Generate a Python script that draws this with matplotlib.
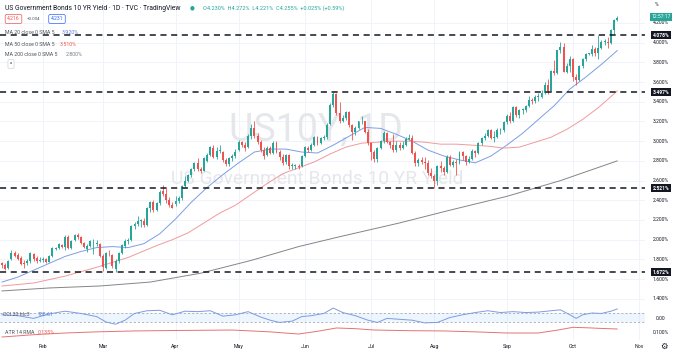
import numpy as np
import pandas as pd
import matplotlib
matplotlib.use("Agg")
import matplotlib.pyplot as plt
import matplotlib.transforms as mtransforms

# US10Y daily candles, 12 Jan 2022 -> 21 Oct 2022
opens = [1.76, 1.74, 1.71, 1.80, 1.87, 1.84, 1.81, 1.76, 1.76, 1.78,
         1.85, 1.81, 1.78, 1.79, 1.80, 1.77, 1.83, 1.91, 1.92, 1.95,
         1.93, 2.03, 1.92, 2.00, 2.05, 2.03, 1.97, 1.91, 1.94, 1.97,
         1.96, 1.96, 1.83, 1.71, 1.87, 1.84, 1.70, 1.78, 1.86, 1.94,
         1.99, 2.00, 2.14, 2.16, 2.19, 2.19, 2.15, 2.32, 2.38, 2.30,
         2.37, 2.49, 2.46, 2.40, 2.35, 2.36, 2.39, 2.42, 2.55, 2.60,
         2.66, 2.72, 2.78, 2.72, 2.70, 2.80, 2.86, 2.93, 2.84, 2.90,
         2.89, 2.81, 2.77, 2.83, 2.85, 2.91, 2.99, 2.96, 2.94, 3.05,
         3.13, 3.05, 2.99, 2.91, 2.86, 2.93, 2.88, 2.98, 2.89, 2.84,
         2.79, 2.86, 2.75, 2.75, 2.75, 2.75, 2.85, 2.93, 2.91, 2.96,
         3.04, 2.98, 3.03, 3.04, 3.17, 3.37, 3.48, 3.29, 3.20, 3.24,
         3.30, 3.16, 3.09, 3.13, 3.20, 3.20, 3.09, 2.98, 2.89, 2.82,
         2.93, 3.00, 3.08, 2.99, 2.96, 2.91, 2.96, 2.93, 2.96, 3.02,
         3.03, 2.88, 2.78, 2.81, 2.79, 2.78, 2.68, 2.65, 2.60, 2.75,
         2.73, 2.69, 2.84, 2.76, 2.79, 2.78, 2.89, 2.85, 2.79, 2.82,
         2.90, 2.88, 2.98, 3.03, 3.05, 3.11, 3.03, 3.04, 3.11, 3.11,
         3.19, 3.26, 3.20, 3.35, 3.27, 3.32, 3.32, 3.36, 3.42, 3.41,
         3.45, 3.45, 3.49, 3.57, 3.51, 3.71, 3.69, 3.93, 3.96, 3.70,
         3.76, 3.83, 3.65, 3.62, 3.76, 3.83, 3.89, 3.89, 3.94, 3.90,
         3.95, 4.01, 4.01, 4.00, 4.13, 4.230]
highs = [1.77, 1.76, 1.79, 1.90, 1.89, 1.86, 1.83, 1.79, 1.80, 1.88,
         1.86, 1.83, 1.82, 1.82, 1.81, 1.84, 1.93, 1.93, 1.97, 1.96,
         2.05, 2.05, 2.00, 2.06, 2.07, 2.04, 1.98, 1.96, 2.00, 2.01,
         2.00, 1.97, 1.85, 1.88, 1.90, 1.85, 1.80, 1.88, 1.96, 2.01,
         2.02, 2.15, 2.18, 2.24, 2.21, 2.22, 2.33, 2.39, 2.40, 2.38,
         2.50, 2.56, 2.52, 2.43, 2.38, 2.44, 2.44, 2.56, 2.65, 2.67,
         2.73, 2.79, 2.83, 2.74, 2.84, 2.88, 2.95, 2.96, 2.94, 2.96,
         2.90, 2.83, 2.84, 2.87, 2.92, 3.01, 3.00, 2.99, 3.07, 3.17,
         3.20, 3.08, 3.01, 2.94, 2.95, 2.95, 3.00, 3.00, 2.91, 2.87,
         2.87, 2.87, 2.78, 2.77, 2.77, 2.86, 2.95, 2.95, 2.98, 3.05,
         3.05, 3.04, 3.06, 3.18, 3.39, 3.50, 3.49, 3.40, 3.27, 3.31,
         3.31, 3.17, 3.15, 3.21, 3.26, 3.21, 3.12, 2.99, 2.91, 2.94,
         3.01, 3.10, 3.09, 3.00, 3.07, 3.00, 2.99, 3.00, 3.04, 3.07,
         3.06, 2.90, 2.83, 2.84, 2.84, 2.81, 2.73, 2.67, 2.76, 2.80,
         2.75, 2.86, 2.86, 2.81, 2.82, 2.90, 2.90, 2.86, 2.85, 2.92,
         2.91, 2.99, 3.04, 3.08, 3.12, 3.12, 3.10, 3.13, 3.13, 3.20,
         3.28, 3.30, 3.36, 3.36, 3.33, 3.34, 3.37, 3.46, 3.44, 3.47,
         3.49, 3.52, 3.60, 3.63, 3.72, 3.82, 3.93, 4.01, 4.00, 3.79,
         3.86, 3.84, 3.68, 3.77, 3.84, 3.90, 3.90, 3.98, 3.96, 4.08,
         4.03, 4.04, 4.06, 4.14, 4.24, 4.272]
lows = [1.71, 1.69, 1.70, 1.79, 1.82, 1.79, 1.74, 1.71, 1.74, 1.76,
        1.78, 1.76, 1.77, 1.77, 1.76, 1.77, 1.82, 1.90, 1.91, 1.92,
        1.90, 1.91, 1.91, 1.99, 2.01, 1.96, 1.92, 1.88, 1.93, 1.85,
        1.94, 1.82, 1.68, 1.70, 1.83, 1.71, 1.67, 1.76, 1.85, 1.92,
        1.96, 1.99, 2.11, 2.14, 2.13, 2.13, 2.14, 2.28, 2.28, 2.29,
        2.35, 2.44, 2.37, 2.33, 2.32, 2.34, 2.37, 2.40, 2.53, 2.59,
        2.64, 2.70, 2.70, 2.68, 2.70, 2.79, 2.85, 2.83, 2.82, 2.88,
        2.79, 2.75, 2.75, 2.80, 2.83, 2.90, 2.94, 2.90, 2.93, 3.02,
        3.03, 2.97, 2.89, 2.82, 2.85, 2.87, 2.87, 2.88, 2.81, 2.76,
        2.77, 2.72, 2.72, 2.72, 2.72, 2.74, 2.84, 2.89, 2.90, 2.95,
        2.96, 2.97, 3.01, 3.02, 3.16, 3.35, 3.27, 3.18, 3.19, 3.22,
        3.14, 3.01, 3.06, 3.12, 3.17, 3.08, 2.96, 2.81, 2.79, 2.79,
        2.92, 2.98, 2.98, 2.93, 2.89, 2.89, 2.91, 2.92, 2.95, 3.01,
        2.87, 2.75, 2.75, 2.77, 2.72, 2.66, 2.63, 2.52, 2.56, 2.69,
        2.66, 2.68, 2.75, 2.74, 2.66, 2.77, 2.81, 2.76, 2.78, 2.81,
        2.84, 2.87, 2.96, 3.01, 3.04, 3.02, 2.99, 3.03, 3.07, 3.09,
        3.17, 3.18, 3.19, 3.25, 3.24, 3.28, 3.30, 3.35, 3.38, 3.39,
        3.41, 3.44, 3.48, 3.48, 3.50, 3.67, 3.68, 3.90, 3.70, 3.69,
        3.70, 3.61, 3.57, 3.61, 3.74, 3.81, 3.88, 3.86, 3.86, 3.83,
        3.94, 3.98, 3.95, 3.99, 4.09, 4.221]
closes = [1.74, 1.70, 1.78, 1.87, 1.83, 1.80, 1.75, 1.75, 1.78, 1.87,
          1.80, 1.78, 1.78, 1.80, 1.77, 1.83, 1.92, 1.92, 1.96, 1.93,
          2.03, 1.92, 1.99, 2.05, 2.03, 1.97, 1.93, 1.94, 1.99, 1.97,
          1.97, 1.83, 1.72, 1.86, 1.86, 1.73, 1.78, 1.86, 1.95, 1.99,
          2.00, 2.14, 2.16, 2.19, 2.19, 2.15, 2.32, 2.38, 2.30, 2.37,
          2.48, 2.46, 2.40, 2.35, 2.32, 2.39, 2.42, 2.55, 2.60, 2.66,
          2.72, 2.78, 2.72, 2.70, 2.83, 2.86, 2.94, 2.84, 2.90, 2.90,
          2.81, 2.77, 2.83, 2.85, 2.89, 2.99, 2.96, 2.93, 3.05, 3.13,
          3.05, 2.99, 2.91, 2.85, 2.93, 2.88, 2.98, 2.89, 2.84, 2.78,
          2.86, 2.75, 2.75, 2.75, 2.74, 2.85, 2.94, 2.91, 2.96, 3.04,
          2.98, 3.03, 3.04, 3.16, 3.37, 3.48, 3.29, 3.20, 3.24, 3.30,
          3.16, 3.09, 3.13, 3.20, 3.20, 3.09, 2.98, 2.89, 2.82, 2.93,
          3.00, 3.08, 2.99, 2.96, 2.91, 2.96, 2.93, 2.96, 3.02, 3.03,
          2.88, 2.78, 2.81, 2.79, 2.78, 2.68, 2.65, 2.60, 2.75, 2.73,
          2.69, 2.84, 2.76, 2.79, 2.78, 2.89, 2.85, 2.79, 2.82, 2.90,
          2.88, 2.98, 3.03, 3.05, 3.11, 3.03, 3.04, 3.11, 3.11, 3.19,
          3.26, 3.20, 3.35, 3.27, 3.32, 3.32, 3.36, 3.42, 3.41, 3.45,
          3.45, 3.49, 3.57, 3.51, 3.71, 3.69, 3.93, 3.96, 3.70, 3.76,
          3.83, 3.65, 3.62, 3.76, 3.83, 3.89, 3.89, 3.94, 3.90, 3.95,
          4.01, 4.01, 4.00, 4.13, 4.23, 4.255]

# bond market holidays skipped by the daily bars
holidays = ['2022-01-17', '2022-02-21', '2022-04-15', '2022-05-30',
            '2022-06-20', '2022-07-04', '2022-09-05']

# moving averages, sampled at bar numbers
ma20_bar = [0, 5, 10, 15, 20, 25, 30, 35, 40, 45, 50, 55, 60, 65, 70, 75, 80, 85, 90, 95,
            100, 105, 110, 115, 120, 125, 130, 135, 140, 145, 150, 155, 160, 165, 170, 175,
            180, 185, 190, 195]
ma20_val = [1.57, 1.62, 1.69, 1.76, 1.83, 1.88, 1.92, 1.93, 1.92, 1.96, 2.06, 2.21, 2.38,
            2.53, 2.66, 2.78, 2.89, 2.92, 2.92, 2.89, 2.88, 2.96, 3.05, 3.14, 3.13, 3.07,
            3.00, 2.91, 2.85, 2.81, 2.78, 2.85, 2.96, 3.08, 3.22, 3.36, 3.53, 3.65, 3.78, 3.92]
ma50_bar = [0, 10, 20, 30, 40, 49, 54, 59, 64, 69, 74, 79, 84, 89, 94, 99, 104, 109, 114,
            119, 124, 129, 134, 139, 144, 149, 154, 159, 164, 169, 174, 179, 184, 189, 195]
ma50_val = [1.53, 1.56, 1.63, 1.72, 1.82, 1.94, 2.00, 2.07, 2.17, 2.27, 2.35, 2.46, 2.57,
            2.67, 2.73, 2.79, 2.87, 2.94, 2.98, 2.99, 3.00, 3.00, 2.99, 2.97, 2.97, 2.96,
            2.95, 2.93, 2.94, 2.99, 3.04, 3.12, 3.22, 3.34, 3.51]
ma200_bar = [0, 15, 31, 47, 63, 79, 94, 107, 126, 142, 160, 177, 195]
ma200_val = [1.48, 1.51, 1.53, 1.57, 1.66, 1.79, 1.93, 2.03, 2.17, 2.30, 2.44, 2.60, 2.80]

# CCI 20 and ATR 14 panes
cci_bar = [0, 5, 10, 15, 20, 25, 30, 33, 36, 39, 42, 46, 50, 54, 58, 62, 66, 70, 74, 78,
           82, 85, 88, 92, 95, 98, 102, 105, 108, 112, 116, 119, 122, 126, 130, 134, 138,
           142, 146, 150, 154, 158, 162, 166, 170, 174, 177, 180, 182, 184, 187, 190, 193, 195]
cci_val = [60, 40, -20, 80, 140, 90, 20, -100, -150, -60, 90, 150, 160, 60, 140, 130, 150,
           30, 60, 130, 10, -60, -110, -80, 20, 40, 90, 210, 110, 40, -60, -110, -20, -40,
           -60, -120, -110, 0, 60, 110, 150, 110, 130, 110, 120, 150, 170, 60, -20, 60, 100,
           90, 140, 188.61]
atr_bar = [0, 10, 20, 30, 42, 55, 73, 85, 94, 100, 106, 112, 118, 130, 140, 150, 160, 170,
           176, 181, 186, 190, 195]
atr_val = [0.065, 0.085, 0.100, 0.110, 0.118, 0.122, 0.126, 0.110, 0.091, 0.115, 0.144,
           0.138, 0.126, 0.120, 0.118, 0.110, 0.100, 0.100, 0.125, 0.150, 0.145, 0.140, 0.135]

levels = [4.078, 3.497, 2.521, 1.672]
price_ticks = [1.4, 1.6, 1.8, 2.0, 2.2, 2.4, 2.6, 2.8, 3.0, 3.2, 3.4, 3.6, 3.8, 4.0, 4.2]

GREEN = '#26a69a'
RED = '#ef5350'
INK = '#131722'
GRID = '#f0f3fa'

W, H = 680, 353
plt.rcParams['font.family'] = ['Roboto', 'DejaVu Sans']

fig = plt.figure(figsize=(W / 100, H / 100), dpi=100)
fig.patch.set_facecolor('white')


def rect(x0, y0, x1, y1):
    return [x0 / W, 1 - y1 / H, (x1 - x0) / W, (y1 - y0) / H]


def ftext(x, y, s, **kw):
    kw.setdefault('va', 'center')
    return fig.text(x / W, 1 - y / H, s, **kw)


ax = fig.add_axes(rect(0, 0, 645, 304))
ax_cci = fig.add_axes(rect(0, 304, 645, 326), sharex=ax)
ax_atr = fig.add_axes(rect(0, 326, 645, 340), sharex=ax)

days = pd.bdate_range('2022-01-12', '2022-11-01')
days = days[~days.isin(pd.to_datetime(holidays))]
month_pos = [i for i in range(1, len(days)) if days[i].month != days[i - 1].month]
month_lab = [days[i].strftime('%b') for i in month_pos]

n = len(closes)
x = np.arange(n)
o, h, l, c = (np.array(v) for v in (opens, highs, lows, closes))
col = np.where(c >= o, GREEN, RED)

for a in (ax, ax_cci, ax_atr):
    a.set_facecolor('white')
    for s in a.spines.values():
        s.set_visible(False)
    a.vlines(month_pos, -1000, 1000, color=GRID, lw=0.7, zorder=0)
    a.tick_params(length=0, labelleft=False, labelbottom=False)
    a.set_yticks([])

ax.set_xlim(-0.63, 203.8)
ax.set_ylim(1.3472, 4.4335)
for t in price_ticks:
    ax.axhline(t, color=GRID, lw=0.7, zorder=0)

# watermark
ax.text(316 / 645, 1 - 130 / 304, 'US10Y, 1D', transform=ax.transAxes, ha='center',
        va='center', fontsize=27, color='#e5e7eb', zorder=0)
ax.text(317 / 645, 1 - 179 / 304, 'US Government Bonds 10 YR Yield', transform=ax.transAxes,
        ha='center', va='center', fontsize=13.8, color='#e5e7eb', zorder=0)

# candles
ax.vlines(x, l, h, colors=col, lw=0.6, zorder=3)
ax.bar(x, np.maximum(np.abs(c - o), 0.01), bottom=np.minimum(o, c), width=0.62,
       color=col, lw=0, zorder=4)

ax.plot(ma20_bar, ma20_val, color='#7d9de3', lw=0.7, zorder=2)
ax.plot(ma50_bar, ma50_val, color='#f29a9a', lw=0.7, zorder=2)
ax.plot(ma200_bar, ma200_val, color='#858585', lw=0.7, zorder=2)

lbl = mtransforms.blended_transform_factory(ax.transAxes, ax.transData)
for v in levels:
    ax.axhline(v, color=INK, lw=1.1, ls=(0, (4, 3)), zorder=5)
    ax.text(661 / 645, v, f'{v:.3f}%', transform=lbl, ha='center', va='center',
            fontsize=3.6, color='white', fontweight='bold', clip_on=False, zorder=7,
            bbox=dict(boxstyle='square,pad=0.3', fc=INK, ec='none'))
for t in price_ticks:
    ax.text(661 / 645, t, f'{t:.3f}%', transform=lbl, ha='center', va='center',
            fontsize=3.6, color=INK, clip_on=False, zorder=6)

ftext(661, 17, '12:57:17', ha='center', fontsize=3.6, color='white', zorder=8,
      bbox=dict(boxstyle='square,pad=0.35', fc=GREEN, ec='none'))
ftext(657, 5, '%', ha='center', fontsize=3.6, color=INK)

# CCI pane
ax_cci.set_ylim(-189, 300)
ax_cci.axhspan(-100, 100, color='#2196f3', alpha=0.08, lw=0)
for v in (100, -100):
    ax_cci.axhline(v, color='#9598a1', lw=0.5, ls=(0, (3, 3)))
ax_cci.plot(cci_bar, cci_val, color='#7e9be0', lw=0.7)
ftext(661, 318, '0.00', ha='center', fontsize=3.6, color=INK)
ftext(3, 315, 'CCI 20 hlc3', fontsize=3.8, color='#50535e')
ftext(38, 315, f'{cci_val[-1]:.2f}', fontsize=3.8, color='#5b7fd6')

# ATR pane
ax_atr.set_ylim(0.0388, 0.1613)
ax_atr.plot(atr_bar, atr_val, color='#e57373', lw=0.7)
ftext(661, 333, '0.100%', ha='center', fontsize=3.6, color=INK)
ftext(5, 333, 'ATR 14 RMA', fontsize=3.8, color='#50535e')
ftext(38, 333, f'{atr_val[-1]:.3f}%', fontsize=3.8, color=RED)

ax_atr.set_xticks(month_pos)
ax_atr.set_xticklabels(month_lab)
ax_atr.tick_params(labelbottom=True, pad=3, labelsize=3.8, labelcolor=INK)
ftext(664, 346, '\u2699', ha='center', fontsize=6, color=INK, family='DejaVu Sans')

# header
ftext(5, 8, 'US Government Bonds 10 YR Yield \u00b7 1D \u00b7 TVC \u00b7 TradingView',
      fontsize=4.9, color=INK)
ftext(192, 8, '\u25cf', ha='center', fontsize=4, color=GREEN, family='DejaVu Sans')
chg = closes[-1] - closes[-2]
ftext(203, 8, f'O{opens[-1]:.3f}%  H{highs[-1]:.3f}%  L{lows[-1]:.3f}%  C{closes[-1]:.3f}%  '
      f'+{chg:.3f}% (+{chg / closes[-2] * 100:.2f}%)', fontsize=4.0, color=GREEN)
ftext(13.5, 19, '4.216', ha='center', fontsize=3.6, color=RED,
      bbox=dict(boxstyle='round,pad=0.4,rounding_size=0.3', fc='white', ec=RED, lw=0.5))
ftext(34, 19, '+0.004', ha='center', fontsize=3.2, color='#50535e')
ftext(57, 19, '4.231', ha='center', fontsize=3.6, color='#2962ff',
      bbox=dict(boxstyle='round,pad=0.4,rounding_size=0.3', fc='white', ec='#2962ff', lw=0.5))

ma_rows = [('MA 20 close 0 SMA 5', ma20_val[-1], '#5b7fd6', 33, 62),
           ('MA 50 close 0 SMA 5', ma50_val[-1], RED, 44, 60),
           ('MA 200 close 0 SMA 5', ma200_val[-1], '#787b86', 54, 66)]
for name, val, vc, yy, vx in ma_rows:
    ftext(5, yy, name, fontsize=3.8, color='#50535e')
    ftext(vx, yy, f'{val:.3f}%', fontsize=3.8, color=vc)
ftext(11, 64, '^', ha='center', fontsize=3.6, color=INK,
      bbox=dict(boxstyle='round,pad=0.4,rounding_size=0.3', fc='white', ec='#d1d4dc', lw=0.5))

fig.savefig('out.png', dpi=100, facecolor='white')
